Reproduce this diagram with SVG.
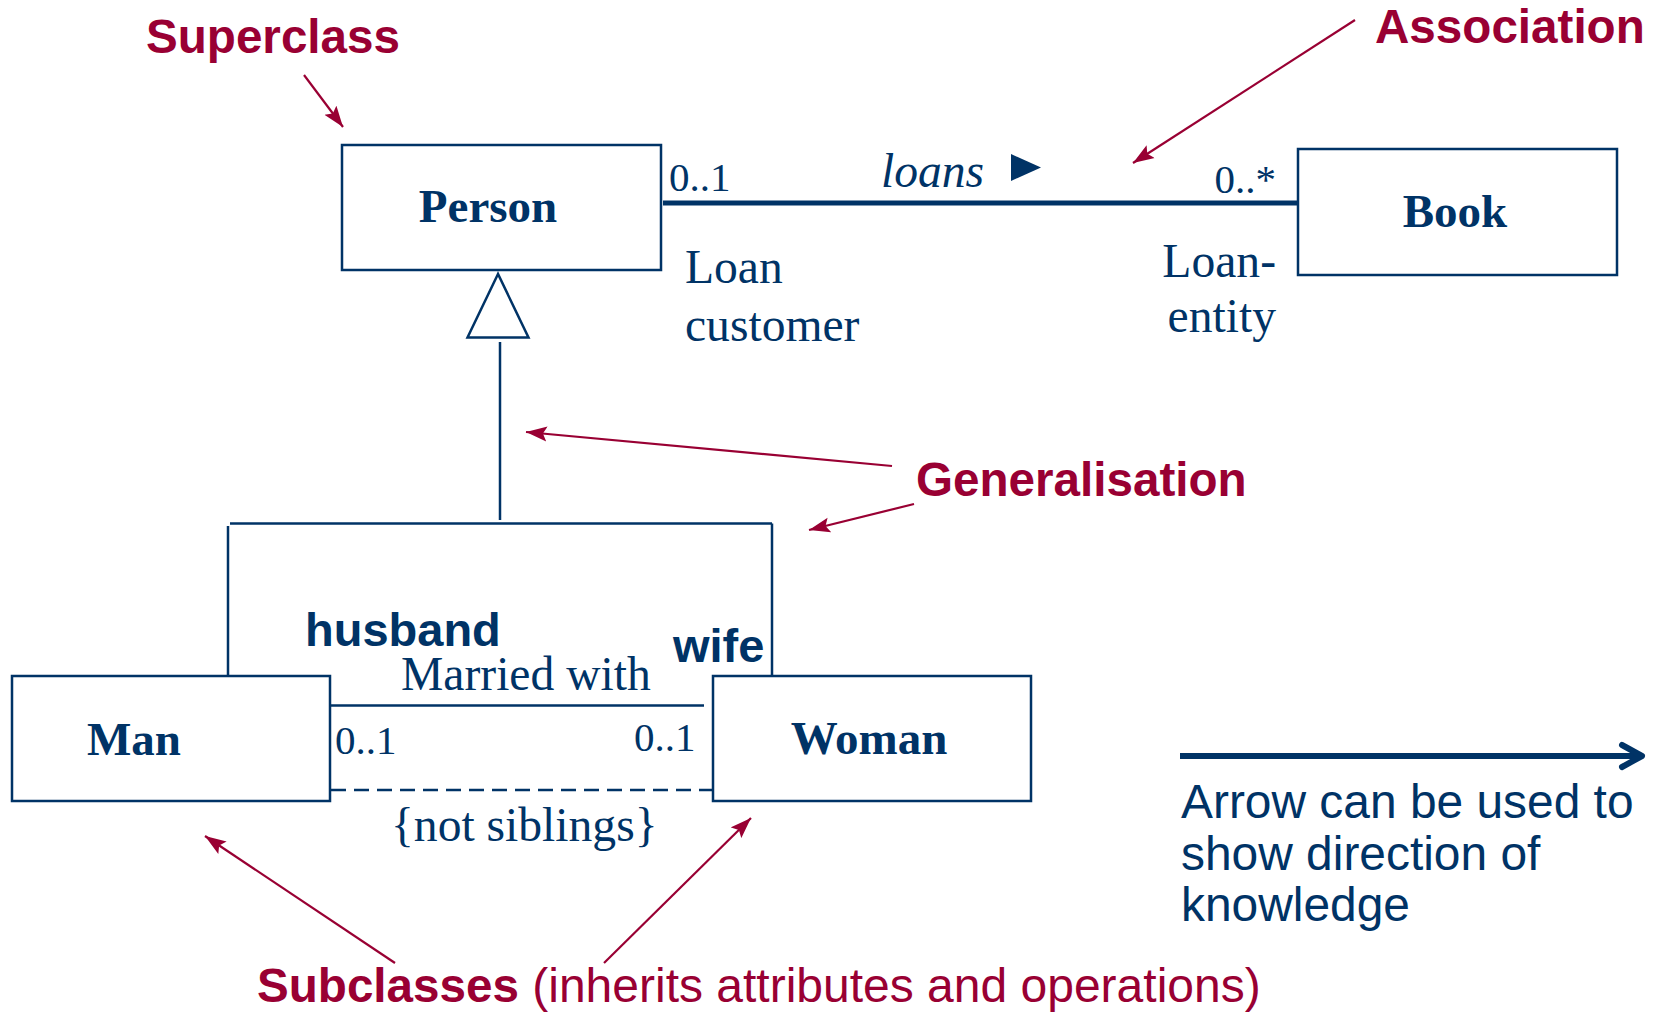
<svg xmlns="http://www.w3.org/2000/svg" width="1653" height="1012" viewBox="0 0 1653 1012">
  <style>
    .box { fill: #ffffff; stroke: #003366; stroke-width: 2.5; }
    .cls { font-family: "Liberation Serif", "Times New Roman", serif; font-weight: bold; font-size: 47px; fill: #003366; text-anchor: middle; }
    .lbl { font-family: "Liberation Serif", "Times New Roman", serif; font-size: 47.6px; fill: #003366; }
    .mult { font-family: "Liberation Serif", "Times New Roman", serif; font-size: 41px; fill: #003366; }
    .role { font-family: "Liberation Sans", Arial, sans-serif; font-weight: bold; font-size: 47px; fill: #003366; }
    .note { font-family: "Liberation Sans", Arial, sans-serif; font-size: 47.9px; fill: #003366; }
    .callout { font-family: "Liberation Sans", Arial, sans-serif; font-weight: bold; font-size: 47.6px; fill: #990033; }
    .line { fill: none; stroke: #003366; stroke-width: 2.5; }
    .pointer { fill: none; stroke: #990033; stroke-width: 2.2; marker-end: url(#redhead); }
  </style>
  <defs>
    <marker id="redhead" markerUnits="userSpaceOnUse" markerWidth="24" markerHeight="16" refX="21" refY="8" orient="auto">
      <path d="M0,0.5 L21,8 L0,15.5 L4,8 z" fill="#990033"/>
    </marker>
  </defs>

  <!-- class nodes -->
  <g id="person">
    <rect class="box" x="342" y="145" width="319" height="125"/>
    <text class="cls" x="488" y="222">Person</text>
  </g>
  <g id="book">
    <rect class="box" x="1298" y="149" width="319" height="126"/>
    <text class="cls" x="1455" y="227">Book</text>
  </g>
  <g id="man">
    <rect class="box" x="12" y="676" width="318" height="125"/>
    <text class="cls" x="134" y="755">Man</text>
  </g>
  <g id="woman">
    <rect class="box" x="713" y="676" width="318" height="125"/>
    <text class="cls" x="869" y="754">Woman</text>
  </g>

  <!-- connectors -->
  <g id="connectors">
    <!-- association Person - Book -->
    <line x1="663" y1="203" x2="1297" y2="203" stroke="#003366" stroke-width="5"/>
    <polygon points="1011,154 1041,167.5 1011,181" fill="#003366"/>

    <!-- generalisation tree -->
    <polygon points="498,274 467.5,337.5 528.5,337.5" fill="#ffffff" stroke="#003366" stroke-width="2.5"/>
    <line class="line" x1="500" y1="342" x2="500" y2="520"/>
    <line class="line" x1="230" y1="523.5" x2="772" y2="523.5"/>
    <line class="line" x1="228" y1="526" x2="228" y2="676"/>
    <line class="line" x1="772" y1="523.5" x2="772" y2="676"/>

    <!-- Man - Woman association and constraint -->
    <line class="line" x1="330" y1="705.5" x2="704" y2="705.5"/>
    <line x1="331" y1="790" x2="712" y2="790" stroke="#003366" stroke-width="2.5" stroke-dasharray="15,8"/>

    <!-- navigability arrow -->
    <line x1="1180" y1="756" x2="1640" y2="756" stroke="#003366" stroke-width="6"/>
    <polyline points="1622,745 1642,756 1622,767" fill="none" stroke="#003366" stroke-width="6" stroke-linecap="round" stroke-linejoin="round"/>

    <!-- callout pointers -->
    <line class="pointer" x1="304" y1="75" x2="343" y2="127"/>
    <line class="pointer" x1="1355" y1="20" x2="1133" y2="163"/>
    <line class="pointer" x1="892" y1="466" x2="526" y2="432"/>
    <line class="pointer" x1="914" y1="504" x2="809" y2="530"/>
    <line class="pointer" x1="395" y1="963" x2="205" y2="836"/>
    <line class="pointer" x1="604" y1="963" x2="751" y2="818"/>
  </g>

  <!-- association labels -->
  <text class="mult" x="669" y="191">0..1</text>
  <text class="lbl" x="881" y="187" font-style="italic">loans</text>
  <text class="mult" x="1276" y="193" text-anchor="end">0..*</text>
  <text class="lbl" x="685" y="283">Loan</text>
  <text class="lbl" x="685" y="341">customer</text>
  <text class="lbl" x="1276" y="277" text-anchor="end">Loan-</text>
  <text class="lbl" x="1276" y="332" text-anchor="end">entity</text>

  <!-- marriage labels -->
  <text class="role" x="305" y="646">husband</text>
  <text class="role" x="673" y="662">wife</text>
  <text class="lbl" x="401" y="690">Married with</text>
  <text class="mult" x="335" y="754">0..1</text>
  <text class="mult" x="634" y="751">0..1</text>
  <text class="lbl" x="391" y="841">{not siblings}</text>

  <!-- callouts -->
  <text class="callout" x="146" y="53">Superclass</text>
  <text class="callout" x="1375" y="43">Association</text>
  <text class="callout" x="916" y="496">Generalisation</text>
  <text class="callout" x="257" y="1002">Subclasses<tspan font-weight="normal" font-size="48px"> (inherits attributes and operations)</tspan></text>

  <!-- note on navigability -->
  <text class="note" x="1181" y="818">Arrow can be used to</text>
  <text class="note" x="1181" y="870">show direction of</text>
  <text class="note" x="1181" y="921">knowledge</text>
</svg>
